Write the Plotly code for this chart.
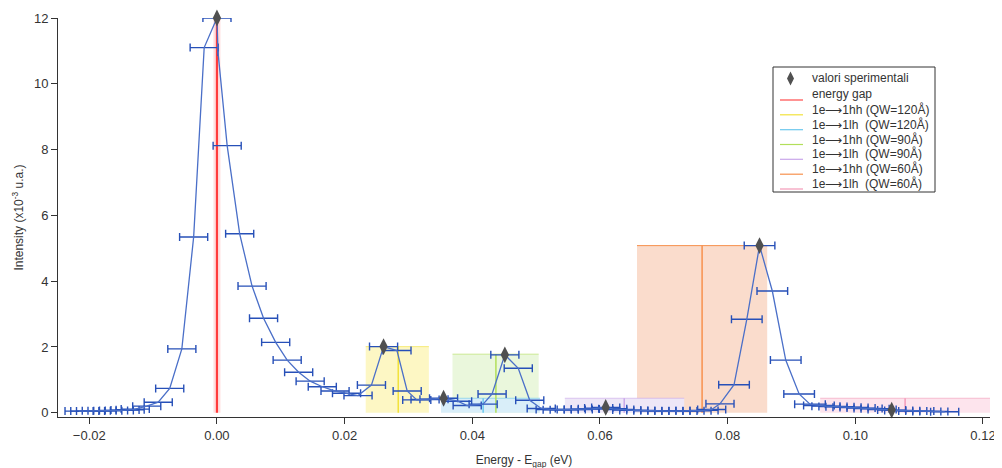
import plotly.graph_objects as go

# ---------------- data ----------------
spec_x = [-0.0216, -0.0207, -0.0198, -0.0189, -0.0180, -0.0171, -0.0162, -0.0153, -0.0144, -0.0136,
          -0.0128, -0.0110, -0.0092, -0.0074, -0.0055, -0.00365, -0.0020, 0.0000, 0.00016, 0.0016,
          0.00356, 0.0055, 0.0073, 0.0092, 0.0110, 0.0128, 0.0146, 0.0165, 0.0185, 0.0203,
          0.0221, 0.0242, 0.0261, 0.0282, 0.0298, 0.0313, 0.0326, 0.0340, 0.0355, 0.0377,
          0.0392, 0.0417, 0.0431, 0.0451, 0.0472, 0.0490, 0.0508,
          0.0522, 0.0533, 0.0544, 0.0555, 0.0566, 0.0577, 0.0588, 0.0598, 0.0609, 0.0620,
          0.0631, 0.0642, 0.0653, 0.0664, 0.0675, 0.0686, 0.0697, 0.0708, 0.0719, 0.0730,
          0.0741, 0.0752, 0.0763, 0.0775, 0.0788, 0.0810, 0.0830, 0.0850, 0.0870, 0.0891,
          0.0912, 0.0929, 0.0943, 0.0954, 0.0965, 0.0976, 0.0987, 0.0998, 0.1009, 0.1020,
          0.1031, 0.1042, 0.1057, 0.1068, 0.1079, 0.1090, 0.1101, 0.1112, 0.1123, 0.1140]
spec_y = [0.05, 0.05, 0.05, 0.06, 0.06, 0.06, 0.07, 0.07, 0.08, 0.09,
          0.11, 0.20, 0.32, 0.74, 1.94, 5.34, 11.10, 12.00, 10.97, 8.12,
          5.44, 3.85, 2.87, 2.14, 1.60, 1.23, 0.96, 0.79, 0.66, 0.59,
          0.52, 0.84, 2.01, 1.89, 0.66, 0.39, 0.40, 0.41, 0.44, 0.35,
          0.22, 0.26, 0.57, 1.76, 1.35, 0.38, 0.13,
          0.10, 0.09, 0.09, 0.10, 0.10, 0.11, 0.12, 0.14, 0.16, 0.12,
          0.10, 0.08, 0.07, 0.07, 0.06, 0.06, 0.06, 0.05, 0.05, 0.05,
          0.06, 0.06, 0.07, 0.10, 0.27, 0.85, 2.84, 5.08, 3.70, 1.60,
          0.57, 0.26, 0.22, 0.20, 0.19, 0.18, 0.17, 0.16, 0.14, 0.13,
          0.12, 0.10, 0.08, 0.07, 0.06, 0.05, 0.05, 0.04, 0.04, 0.03]
spec_err = [0.0022] * 18 + [None] + [0.0022] * 53 + [0.0024] * 8 + [0.0022] * 20

peak_x = [0.0, 0.0261, 0.0355, 0.0451, 0.0609, 0.0850, 0.1057]
peak_y = [12.0, 2.01, 0.44, 1.76, 0.16, 5.08, 0.08]

gap_x = 0.0
gap_height = 12.0

trans_names = ["1e\u27f61hh (QW=120\u00c5)", "1e\u27f61lh\u00a0\u00a0(QW=120\u00c5)",
               "1e\u27f61hh (QW=90\u00c5)", "1e\u27f61lh\u00a0\u00a0(QW=90\u00c5)",
               "1e\u27f61hh (QW=60\u00c5)", "1e\u27f61lh\u00a0\u00a0(QW=60\u00c5)"]
trans_center = [0.0284, 0.0417, 0.0437, 0.0638, 0.0760, 0.1078]
trans_low = [0.0233, 0.0351, 0.0369, 0.0545, 0.0658, 0.0945]
trans_high = [0.0332, 0.0506, 0.0504, 0.0732, 0.0862, 0.1212]
trans_height = [2.01, 0.44, 1.78, 0.44, 5.08, 0.44]
trans_line = ["#f2e23c", "#6cc8ee", "#b2df5a", "#c9a6ea", "#f7914e", "#f49ab8"]
trans_fill = ["#fdf7c4", "#d9eef9", "#eaf7dc", "#eee7f7", "#fadccc", "#fde4ed"]
draw_order = [0, 2, 1, 4, 3, 5]

legend_labels = ["valori sperimentali", "energy gap"] + trans_names
legend_colors = ["#505050", "#ff4b4b"] + trans_line

FONT = "Arial, Liberation Sans, sans-serif"

# layout geometry: page body adds an 8px offset, so screen = figure + 8
W, H = 1002, 468
OFF = 8
S_L, S_R, S_T, S_B = 58, 990, 18, 417          # plot area on screen
ML, MT = S_L - OFF, S_T - OFF
MR, MB = W - (S_R - OFF), H - (S_B - OFF)
PW, PH = S_R - S_L, S_B - S_T


def pxx(px):
    return (px - S_L) / PW


def pxy(py):
    return (S_B - py) / PH


fig = go.Figure()

# shaded ranges
for i in draw_order:
    fig.add_shape(type="rect", xref="x", yref="y", layer="below",
                  x0=trans_low[i], x1=trans_high[i], y0=0, y1=trans_height[i],
                  fillcolor=trans_fill[i], line=dict(width=0))
    fig.add_shape(type="line", xref="x", yref="y", layer="below",
                  x0=trans_low[i], x1=trans_high[i], y0=trans_height[i], y1=trans_height[i],
                  line=dict(color=trans_line[i], width=1), opacity=0.6 if i != 4 else 1.0)

# energy gap (halo + core)
fig.add_trace(go.Scatter(x=[gap_x, gap_x], y=[0, gap_height], mode="lines",
                         line=dict(color="rgba(255,80,80,0.18)", width=7),
                         showlegend=False, hoverinfo="skip"))
fig.add_trace(go.Scatter(x=[gap_x, gap_x], y=[0, gap_height], mode="lines",
                         line=dict(color="#ff3b3b", width=2.2), name="energy gap",
                         showlegend=False))

# transition lines
for i in range(len(trans_names)):
    fig.add_trace(go.Scatter(x=[trans_center[i], trans_center[i]], y=[0, trans_height[i]],
                             mode="lines", line=dict(color=trans_line[i], width=1.5),
                             name=trans_names[i], showlegend=False))

# spectrum
fig.add_trace(go.Scatter(x=spec_x, y=spec_y, mode="lines",
                         line=dict(color="#4a6fc8", width=1.3),
                         error_x=dict(type="data", array=spec_err, visible=True,
                                      color="#2750b8", thickness=1.4, width=4),
                         showlegend=False, hoverinfo="skip"))

# experimental peaks
fig.add_trace(go.Scatter(x=peak_x, y=peak_y, mode="markers",
                         marker=dict(symbol="diamond-tall", size=12, color="#505050"),
                         name="valori sperimentali", showlegend=False, cliponaxis=False))

# ---------------- hand-drawn legend box (Igor style) ----------------
box_l, box_r, box_t, box_b = 773, 935, 67, 192
fig.add_shape(type="rect", xref="paper", yref="paper",
              x0=pxx(box_l), x1=pxx(box_r), y0=pxy(box_b), y1=pxy(box_t),
              fillcolor="white", line=dict(color="#333333", width=1))
row_y = [78.5, 94.5, 109.3, 124.2, 139.0, 153.8, 168.7, 183.5]
text_x = 810
for k, (lab, col) in enumerate(zip(legend_labels, legend_colors)):
    fig.add_annotation(xref="paper", yref="paper", x=pxx(text_x), y=pxy(row_y[k]),
                       text=lab, showarrow=False, xanchor="left", yanchor="middle",
                       font=dict(family=FONT, size=12, color="#333333"))
    if k == 0:
        cx, cy = 790.5, row_y[k]
        fig.add_shape(type="path", xref="paper", yref="paper",
                      path=(f"M {pxx(cx)},{pxy(cy - 7)} L {pxx(cx + 3.5)},{pxy(cy)} "
                            f"L {pxx(cx)},{pxy(cy + 7)} L {pxx(cx - 3.5)},{pxy(cy)} Z"),
                      fillcolor=col, line=dict(width=0))
    else:
        ly = row_y[k] + 5.5
        fig.add_shape(type="line", xref="paper", yref="paper",
                      x0=pxx(780), x1=pxx(803), y0=pxy(ly), y1=pxy(ly),
                      line=dict(color=col, width=1.2))

fig.update_layout(
    width=W, height=H,
    margin=dict(l=ML, r=MR, t=MT, b=MB),
    paper_bgcolor="white", plot_bgcolor="white",
    font=dict(family=FONT, size=12, color="#333333"),
    showlegend=False,
    xaxis=dict(range=[-0.0249, 0.1211], tickvals=[-0.02, 0.0, 0.02, 0.04, 0.06, 0.08, 0.10, 0.12],
               tickformat=".2f", showgrid=False, zeroline=False, showline=True, automargin=False,
               linecolor="#333333", linewidth=1, ticks="outside", ticklen=6,
               tickcolor="#333333", tickfont=dict(size=13),
               title=dict(text="Energy - E<sub>gap</sub> (eV)", font=dict(size=12), standoff=14)),
    yaxis=dict(range=[-0.13, 12.0], tickvals=[0, 2, 4, 6, 8, 10, 12],
               showgrid=False, zeroline=False, showline=True, automargin=False,
               linecolor="#333333", linewidth=1, ticks="outside", ticklen=6,
               tickcolor="#333333", tickfont=dict(size=13),
               title=dict(text="Intensity (x10<sup>-3</sup> u.a.)", font=dict(size=12), standoff=7)),
)

fig.write_html("out.html")
